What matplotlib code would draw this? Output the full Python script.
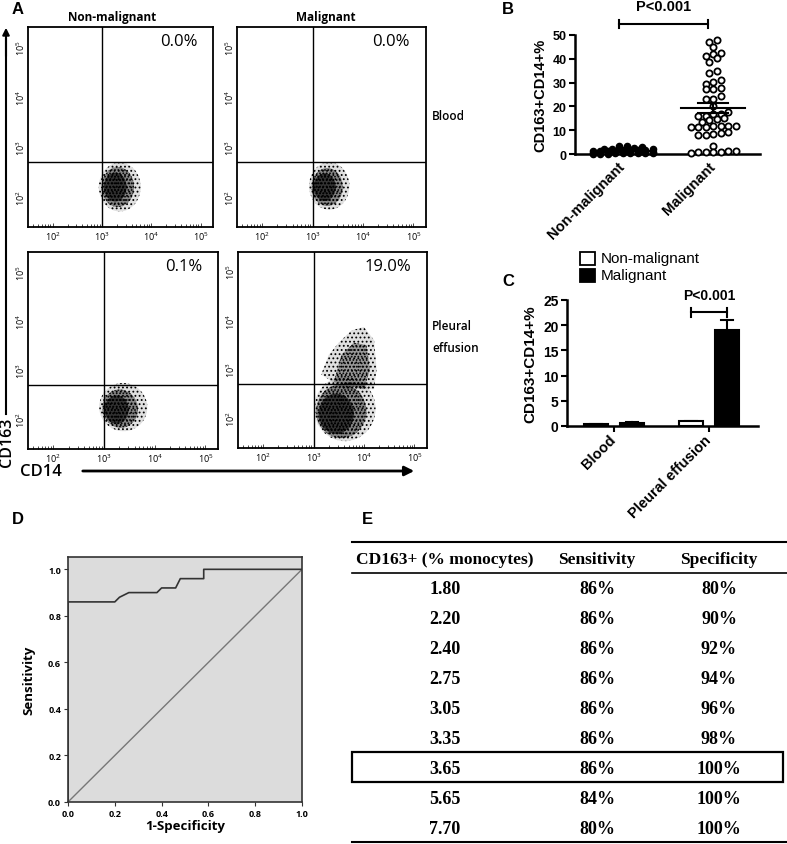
import numpy as np
import matplotlib.pyplot as plt
from matplotlib.patches import Ellipse, Polygon, Rectangle

plt.rcParams['hatch.linewidth'] = 0.8
plt.rcParams['mathtext.default'] = 'regular'

# ---------------- data ----------------
# A: flow cytometry (log10 fluorescence units)
flow_cols = ['Non-malignant', 'Malignant']
flow_rows = ['Blood', 'Pleural\neffusion']
flow_pct = ['0.0%', '0.0%', '0.1%', '19.0%']
gate_cd14 = 3.0
gate_cd163 = 2.7
# event clouds: (cx, cy, width, height, angle) -> outer, mid, core
cloud_blood_nonmal = [(3.36, 2.2, 0.85, 0.98, 0), (3.32, 2.2, 0.66, 0.8, 0), (3.27, 2.2, 0.46, 0.58, 0)]
cloud_blood_mal = [(3.33, 2.22, 0.8, 0.95, 0), (3.29, 2.2, 0.62, 0.76, 0), (3.24, 2.2, 0.44, 0.55, 0)]
cloud_pe_nonmal = [(3.38, 2.25, 0.95, 0.98, 10), (3.32, 2.22, 0.7, 0.78, 10), (3.25, 2.2, 0.48, 0.58, 0)]
cloud_pe_mal = [(3.62, 2.2, 1.22, 1.32, 0), (3.55, 2.15, 1.0, 1.1, 0), (3.45, 2.1, 0.7, 0.82, 0)]
lobe_outer_x = [3.15, 3.3, 3.5, 3.75, 4.0, 4.2, 4.25, 4.2, 3.6]
lobe_outer_y = [2.9, 3.3, 3.55, 3.8, 3.87, 3.6, 3.0, 2.6, 2.6]
lobe_mid_x = [3.4, 3.55, 3.8, 4.05, 4.12, 4.0]
lobe_mid_y = [2.75, 3.3, 3.55, 3.5, 3.0, 2.6]

# B: CD163+CD14+ % per patient
nonmal_vals = [0.1, 0.2, 0.2, 0.3, 0.3, 0.3, 0.4, 0.4, 0.5, 0.5, 0.6, 0.6, 0.7, 0.7,
               0.8, 0.9, 1.0, 1.0, 1.1, 1.2, 1.3, 1.4, 1.5, 1.6, 1.7, 1.8, 1.9, 2.0,
               2.1, 2.2, 2.4, 2.7, 3.0, 3.3, 3.5]
mal_vals = [47.9, 47.1, 45.0, 42.6, 41.9, 41.0, 40.5, 38.7, 35.0, 34.2, 30.3, 31.1,
            29.6, 27.9, 27.5, 27.2, 24.4, 23.0, 23.0, 20.2, 16.8, 16.0, 16.8, 16.0,
            17.5, 14.4, 13.3, 14.7, 15.0, 11.9, 11.2, 11.9, 11.5, 11.2, 11.9, 11.9,
            9.1, 8.4, 8.0, 8.0, 8.8, 3.5, 1.1, 0.7, 0.7, 0.4, 0.7, 0.7, 1.1]
groups_b = ['Non-malignant', 'Malignant']

# C: mean CD163+CD14+ %
sites = ['Blood', 'Pleural effusion']
bar_nonmal = [0.33, 0.95]
bar_mal = [0.6, 19.1]
err_nonmal = [0.05, 0.1]
err_mal = [0.1, 2.0]

# D: ROC curve
roc_fpr = [0.0, 0.0, 0.2, 0.22, 0.26, 0.38, 0.4, 0.46, 0.48, 0.58, 0.58, 1.0]
roc_tpr = [0.0, 0.86, 0.86, 0.88, 0.90, 0.90, 0.92, 0.92, 0.96, 0.96, 1.0, 1.0]

# E: cut-off table
tab_header = ['CD163+ (% monocytes)', 'Sensitivity', 'Specificity']
tab_cutoff = ['1.80', '2.20', '2.40', '2.75', '3.05', '3.35', '3.65', '5.65', '7.70']
tab_sens = ['86%', '86%', '86%', '86%', '86%', '86%', '86%', '84%', '80%']
tab_spec = ['80%', '90%', '92%', '94%', '96%', '98%', '100%', '100%', '100%']
tab_best = 6

# ---------------- figure ----------------
W, H = 787, 845
fig = plt.figure(figsize=(W / 100, H / 100), dpi=100)


def rect(x0, y0, x1, y1):
    return [x0 / W, 1 - y1 / H, (x1 - x0) / W, (y1 - y0) / H]


def ftext(x, y, s, **kw):
    fig.text(x / W, 1 - y / H, s, **kw)


SANS = 'Liberation Sans'
MYR = 'Open Sans'
SERIF = 'Liberation Serif'

# ---------------- A ----------------
boxes = [(28, 28, 213, 228), (237, 28, 426, 228), (28, 253, 218, 450), (238, 253, 427, 449)]
clouds = [cloud_blood_nonmal, cloud_blood_mal, cloud_pe_nonmal, cloud_pe_mal]
# outer sparse stipple, mid grey, denser core
layer_style = [dict(facecolor=(0, 0, 0, 0.12), hatch='....'),
               dict(facecolor=(0, 0, 0, 0.4), hatch='.....'),
               dict(facecolor=(0, 0, 0, 0.62), hatch='.....')]
minor = [np.log10(k * 10.0 ** n) for n in range(1, 6) for k in range(2, 10)]
for i, (b, cl) in enumerate(zip(boxes, clouds)):
    ax = fig.add_axes(rect(*b))
    ax.set_xlim(1.5, 5.25)
    ax.set_ylim(1.4, 5.4)
    if i == 3:
        ax.add_patch(Polygon(np.column_stack([lobe_outer_x, lobe_outer_y]), edgecolor='black',
                             linewidth=0, **layer_style[0]))
        ax.add_patch(Polygon(np.column_stack([lobe_mid_x, lobe_mid_y]), edgecolor='black',
                             linewidth=0, facecolor=(0, 0, 0, 0.32), hatch='.....'))
    for (cx, cy, w, h, ang), st in zip(cl, layer_style):
        ax.add_patch(Ellipse((cx, cy), w, h, angle=ang, edgecolor='black', linewidth=0, **st))
    ax.axvline(gate_cd14, color='black', lw=1.0)
    ax.axhline(gate_cd163, color='black', lw=1.0)
    ticks = [2, 3, 4, 5]
    labels = [r'$10^{%d}$' % t for t in ticks]
    ax.set_xticks(ticks)
    ax.set_xticklabels(labels, fontsize=6.5, family=MYR)
    ax.set_yticks(ticks)
    ax.set_yticklabels(labels, fontsize=6.5, family=MYR, rotation=90, va='center')
    ax.set_xticks([m for m in minor if 1.5 < m < 5.25], minor=True)
    ax.tick_params(axis='x', which='both', direction='in', width=0.5, pad=2)
    ax.tick_params(axis='x', which='major', length=3)
    ax.tick_params(axis='x', which='minor', length=2)
    ax.tick_params(axis='y', length=0, pad=1)
    for s in ax.spines.values():
        s.set_linewidth(1.3)
    ax.text(1 - 16 / 190, 1 - 14 / 200, flow_pct[i], transform=ax.transAxes,
            ha='right', va='center', fontsize=12, family=MYR)

ftext(12, 10, 'A', fontsize=12, weight='bold', family=SANS, va='center', ha='left')
ftext(112, 18, flow_cols[0], fontsize=8.5, weight='bold', family=MYR, ha='center', va='center')
ftext(326, 18, flow_cols[1], fontsize=8.5, weight='bold', family=MYR, ha='center', va='center')
ftext(432, 117, flow_rows[0], fontsize=8.5, weight='semibold', family=MYR, ha='left', va='center')
ftext(432, 338, flow_rows[1], fontsize=8.5, weight='semibold', family=MYR, ha='left', va='center',
      linespacing=1.9)
ftext(7, 442, 'CD163', fontsize=11.5, weight='semibold', family=MYR, rotation=90, ha='center', va='center')
ftext(20, 472, 'CD14', fontsize=12, weight='semibold', family=MYR, ha='left', va='center')
fig.add_artist(plt.Line2D([6 / W, 6 / W], [1 - 415 / H, 1 - 40 / H], color='black', lw=1.5))
ax_tmp = fig.axes[0]
ax_tmp.annotate('', xy=(6 / W, 1 - 26 / H), xytext=(6 / W, 1 - 60 / H), xycoords='figure fraction',
                arrowprops=dict(arrowstyle='-|>', lw=1.5, color='black', mutation_scale=10))
ax_tmp.annotate('', xy=(417 / W, 1 - 472 / H), xytext=(80 / W, 1 - 472 / H), xycoords='figure fraction',
                arrowprops=dict(arrowstyle='-|>', lw=2, color='black', mutation_scale=14))


# ---------------- B ----------------
def swarm_offsets(vals, gap, maxn, step):
    vals = np.asarray(vals)
    order = np.argsort(vals, kind='stable')
    xs = np.zeros(len(vals))
    rows, row = [], []
    for idx in order:
        if row and (vals[idx] - vals[row[0]] > gap or len(row) >= maxn):
            rows.append(row)
            row = []
        row.append(idx)
    rows.append(row)
    for r in rows:
        n = len(r)
        for k, idx in enumerate(r):
            xs[idx] = (k - (n - 1) / 2) * step
    return xs


ax_b = fig.add_axes(rect(575, 36, 760, 155))
ax_b.set_xlim(-0.53, 1.52)
ax_b.set_ylim(0, 50)
step = 0.083
xn = swarm_offsets(nonmal_vals, 1.0, 9, step)
xm = swarm_offsets(mal_vals, 2.0, 8, step)
ax_b.scatter(0 + xn, nonmal_vals, s=20, color='black', zorder=3, clip_on=False)
ax_b.scatter(1 + xm, mal_vals, s=20, facecolor='white', edgecolor='black', linewidth=1.3,
             zorder=3, clip_on=False)
for gx, vals in [(0, nonmal_vals), (1, mal_vals)]:
    m = np.mean(vals)
    se = np.std(vals, ddof=1) / np.sqrt(len(vals))
    ax_b.plot([gx - 0.35, gx + 0.35], [m, m], color='black', lw=1.5, zorder=4)
    ax_b.plot([gx, gx], [m - se, m + se], color='black', lw=1.5, zorder=4)
    for yy in (m - se, m + se):
        ax_b.plot([gx - 0.17, gx + 0.17], [yy, yy], color='black', lw=1.5, zorder=4)
ax_b.set_yticks([0, 10, 20, 30, 40, 50])
ax_b.set_xticks([0, 1])
ax_b.set_xticklabels(groups_b, rotation=45, ha='right', va='center', rotation_mode='anchor',
                     fontsize=10.5, weight='bold', family=SANS)
for lab in ax_b.get_yticklabels():
    lab.set_fontsize(9)
    lab.set_fontweight('bold')
    lab.set_family(SANS)
ax_b.tick_params(axis='y', length=4, width=1.5, pad=2)
ax_b.tick_params(axis='x', length=0, pad=7)
ax_b.set_ylabel('CD163+CD14+%', fontsize=10.5, weight='bold', family=SANS, labelpad=4)
for s in ['top', 'right']:
    ax_b.spines[s].set_visible(False)
for s in ['left', 'bottom']:
    ax_b.spines[s].set_linewidth(1.8)
ax_b.plot([-0.04, 0.94], [54.6, 54.6], color='black', lw=1.5, clip_on=False)
for bx in (-0.04, 0.94):
    ax_b.plot([bx, bx], [52.8, 56.4], color='black', lw=1.5, clip_on=False)
ax_b.text(0.45, 62.0, 'P<0.001', ha='center', va='center', fontsize=10.5, weight='bold', family=SANS)
ftext(502, 10, 'B', fontsize=12, weight='bold', family=SANS, va='center', ha='left')

# ---------------- C ----------------
ax_c = fig.add_axes(rect(567, 301, 758, 427))
ax_c.set_xlim(-0.495, 1.516)
ax_c.set_ylim(0, 25)
xc = np.arange(len(sites))
bw, off = 0.25, 0.19
ax_c.bar(xc - off, bar_nonmal, bw, color='white', edgecolor='black', linewidth=1.5, zorder=3)
ax_c.bar(xc + off, bar_mal, bw, color='black', edgecolor='black', linewidth=1.5, zorder=3)
for xs_, vals, errs in [(xc - off, bar_nonmal, err_nonmal), (xc + off, bar_mal, err_mal)]:
    for x_, v, e in zip(xs_, vals, errs):
        ax_c.plot([x_, x_], [v, v + e], color='black', lw=1.5, zorder=2)
        ax_c.plot([x_ - 0.06, x_ + 0.06], [v + e, v + e], color='black', lw=1.5, zorder=2)
ax_c.set_yticks([0, 5, 10, 15, 20, 25])
ax_c.set_xticks(xc)
ax_c.set_xticklabels(sites, rotation=45, ha='right', va='center', rotation_mode='anchor',
                     fontsize=10.5, weight='bold', family=SANS)
for lab in ax_c.get_yticklabels():
    lab.set_fontsize(10)
    lab.set_fontweight('bold')
    lab.set_family(SANS)
ax_c.tick_params(axis='y', length=4, width=1.5, pad=2)
ax_c.tick_params(axis='x', length=4, width=1.5, pad=4)
ax_c.set_ylabel('CD163+CD14+%', fontsize=11, weight='bold', family=SANS, labelpad=4)
for s in ['top', 'right']:
    ax_c.spines[s].set_visible(False)
for s in ['left', 'bottom']:
    ax_c.spines[s].set_linewidth(1.8)
ax_c.plot([1 - off, 1 + off], [22.6, 22.6], color='black', lw=1.5, clip_on=False)
for bx in (1 - off, 1 + off):
    ax_c.plot([bx, bx], [21.7, 23.5], color='black', lw=1.5, clip_on=False)
ax_c.text(1.0, 25.9, 'P<0.001', ha='center', va='center', fontsize=10, weight='bold', family=SANS,
          clip_on=False)
ftext(502, 282, 'C', fontsize=12, weight='bold', family=SANS, va='center', ha='left')
fig.add_artist(Rectangle((580 / W, 1 - 266 / H), 15 / W, 13 / H, transform=fig.transFigure,
                         facecolor='white', edgecolor='black', lw=1.3))
fig.add_artist(Rectangle((580 / W, 1 - 283 / H), 15 / W, 13 / H, transform=fig.transFigure,
                         facecolor='black', edgecolor='black', lw=1.3))
ftext(601, 259, groups_b[0], fontsize=11, family=SANS, va='center', ha='left')
ftext(601, 276, groups_b[1], fontsize=11, family=SANS, va='center', ha='left')

# ---------------- D ----------------
ax_d = fig.add_axes(rect(68, 558, 302, 803))
ax_d.set_facecolor('#dcdcdc')
ax_d.set_xlim(0, 1)
ax_d.set_ylim(0, 1.053)
ax_d.plot([0, 1], [0, 1], color='#777777', lw=1.0)
ax_d.plot(roc_fpr, roc_tpr, color='#333333', lw=1.2)
ticks_d = [0.0, 0.2, 0.4, 0.6, 0.8, 1.0]
ax_d.set_xticks(ticks_d)
ax_d.set_yticks(ticks_d)
ax_d.set_xticklabels(['%.1f' % t for t in ticks_d], fontsize=6.5, weight='bold', family=MYR)
ax_d.set_yticklabels(['%.1f' % t for t in ticks_d], fontsize=6.5, weight='bold', family=MYR)
ax_d.tick_params(length=3, width=0.8, color='#333333', pad=2)
for s in ax_d.spines.values():
    s.set_color('#333333')
    s.set_linewidth(1.2)
ax_d.set_xlabel('1-Specificity', fontsize=9.5, weight='bold', family=MYR, labelpad=1)
ax_d.set_ylabel('Sensitivity', fontsize=9.5, weight='bold', family=MYR, labelpad=9)
ftext(12, 520, 'D', fontsize=12, weight='bold', family=SANS, va='center', ha='left')

# ---------------- E ----------------
ax_e = fig.add_axes(rect(340, 530, 787, 845))
ax_e.set_xlim(340, 787)
ax_e.set_ylim(9.5, -1.0)
ax_e.axis('off')
col_x = [445, 597, 719]
for cx, h in zip(col_x, tab_header):
    ax_e.text(cx, 0, h, ha='center', va='center', fontsize=12.5, weight='bold', family=SERIF)
for r, row in enumerate(zip(tab_cutoff, tab_sens, tab_spec), start=1):
    for cx, v in zip(col_x, row):
        ax_e.text(cx, r, v, ha='center', va='center', fontsize=13, weight='bold', family=SERIF)
nrows = len(tab_cutoff)
ax_e.plot([352, 787], [-0.57, -0.57], color='black', lw=1.5)
ax_e.plot([352, 787], [0.47, 0.47], color='black', lw=1.2)
ax_e.plot([352, 787], [nrows + 0.43, nrows + 0.43], color='black', lw=1.5)
ax_e.add_patch(Rectangle((352, tab_best + 1 - 0.57), 783 - 352, 1.0, facecolor='none',
                         edgecolor='black', lw=1.6))
ftext(362, 520, 'E', fontsize=12, weight='bold', family=SANS, va='center', ha='left')

fig.savefig('out.png', dpi=100)
